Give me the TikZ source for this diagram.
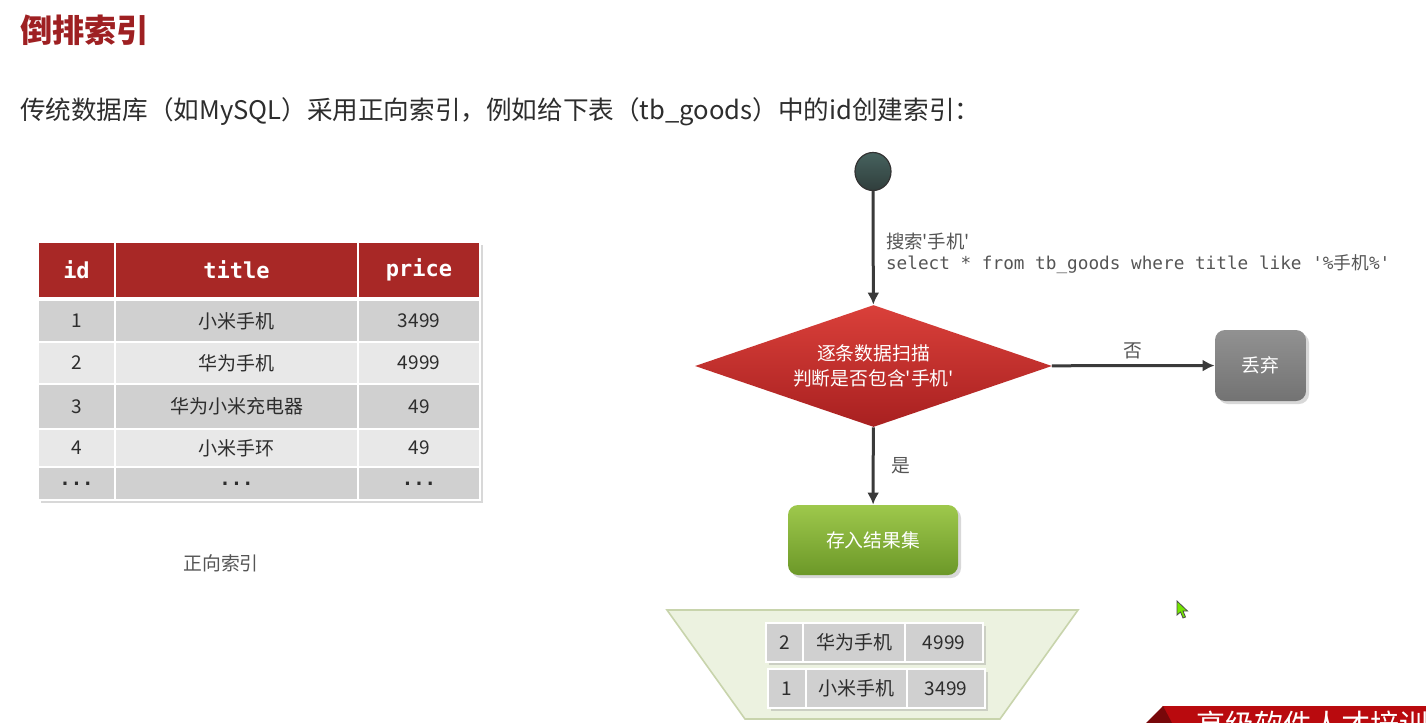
\documentclass[tikz,border=0pt]{standalone}
\usepackage{fontspec}
\setmainfont{Noto Sans CJK SC}
\newfontfamily\monofont{DejaVu Sans Mono}
\usetikzlibrary{arrows.meta,positioning,calc,shapes.geometric,shadows}
\definecolor{titlered}{RGB}{158,32,34}
\definecolor{headred}{RGB}{168,40,38}
\definecolor{rowdark}{RGB}{208,208,208}
\definecolor{rowlight}{RGB}{232,232,232}
\definecolor{txtgray}{RGB}{45,45,45}
\definecolor{notegray}{RGB}{85,85,85}
\definecolor{arrowgray}{RGB}{58,58,58}
\definecolor{dottop}{RGB}{70,98,94}
\definecolor{dotbottom}{RGB}{48,62,60}
\definecolor{scantop}{RGB}{218,64,58}
\definecolor{scanbottom}{RGB}{168,32,32}
\definecolor{storetop}{RGB}{158,200,76}
\definecolor{storebottom}{RGB}{108,152,40}
\definecolor{trapfill}{RGB}{236,242,224}
\definecolor{trapline}{RGB}{200,212,172}
\definecolor{bannerred}{RGB}{185,10,14}
\definecolor{bannerdark}{RGB}{120,8,10}
\newcommand{\sq}{\textquotesingle}
\newcommand{\rowdots}{{\monofont\bfseries...}}

\begin{document}
\begin{tikzpicture}[x=0.5pt,y=-0.5pt,
  cell/.style={draw=white,line width=1pt,inner sep=0pt,text=txtgray,font=\fontsize{9.5}{11}\selectfont},
  tcell/.style 2 args={cell,minimum width=#1*0.5pt,minimum height=#2*0.5pt},
  headcell/.style 2 args={tcell={#1}{#2},fill=headred,text=white,font=\monofont\bfseries\fontsize{11}{13}\selectfont},
  flow/.style={draw=arrowgray,line width=1.5pt,-{Latex[length=6pt,width=6pt]}},
  softshadow/.style={drop shadow={opacity=0.3,shadow xshift=1.5pt,shadow yshift=-1.5pt}},
  startdot/.style={ellipse,minimum width=18pt,minimum height=19pt,inner sep=0pt,draw=black!80,line width=0.6pt,top color=dottop,bottom color=dotbottom},
  decision/.style={diamond,aspect=2.93,minimum width=178.5pt,minimum height=61pt,inner sep=0pt,align=center,
    top color=scantop,bottom color=scanbottom,text=white,font=\fontsize{9.4}{12.5}\selectfont},
  stepbox/.style={rectangle,rounded corners=5pt,inner sep=0pt,text=white,font=\fontsize{9.4}{11}\selectfont,softshadow},
  note/.style={text=notegray,font=\fontsize{9.2}{11}\selectfont}]
\useasboundingbox[fill=white] (0,0) rectangle (1426,723);

% heading
\node[anchor=west,text=titlered,font=\bfseries\fontsize{16.1}{19}\selectfont] (heading) at (13,30) {倒排索引};
\node[anchor=west,text=txtgray,font=\fontsize{12.8}{15}\selectfont] (intro) at (13,112)
  {传统数据库（如MySQL）采用正向索引，例如给下表（tb\_goods）中的id创建索引：};

% forward index table
\fill[white,softshadow] (38,242) rectangle (480,500);
\node[headcell={77}{56}] (hid) at (76.5,270) {id};
\node[headcell={243}{56}] (htitle) at (236.5,270) {title};
\node[headcell={122}{56}] (hprice) at (419,270) {price};
\foreach \r/\yc/\rh/\fc/\a/\b/\c in {1/321/42/rowdark/1/小米手机/3499,
    2/363/42/rowlight/2/华为手机/4999, 3/406.5/45/rowdark/3/华为小米充电器/49,
    4/448/38/rowlight/4/小米手环/49, 5/483.5/33/rowdark/\rowdots/\rowdots/\rowdots}{
  \node[tcell={77}{\rh},fill=\fc] (id\r) at (76.5,\yc) {\a};
  \node[tcell={243}{\rh},fill=\fc] (title\r) at (236.5,\yc) {\b};
  \node[tcell={122}{\rh},fill=\fc] (price\r) at (419,\yc) {\c};
}
\node[text=notegray,font=\fontsize{9.4}{11}\selectfont] (fwdlabel) at (221,563) {正向索引};

% scan flow
\node[startdot] (start) at (873,171.5) {};
\node[decision] (scan) at (873.5,366) {逐条数据扫描\\判断是否包含\sq 手机\sq};
\node[stepbox,minimum width=45.5pt,minimum height=35.5pt,top color=black!43,bottom color=black!55] (discard) at (1260.5,365.5) {丢弃};
\node[stepbox,minimum width=85pt,minimum height=35pt,top color=storetop,bottom color=storebottom] (store) at (873,540) {存入结果集};

\draw[flow] (start) -- (scan);
\node[note,anchor=west] (search) at (879,242) {搜索\sq 手机\sq};
\node[note,anchor=west,font=\fontsize{8.85}{11}\selectfont] (query) at (879,264) {{\monofont select * from tb\_goods where title like \sq\%}手机{\monofont\%\sq}};
\draw[flow] (scan) -- node[note,above=-1pt,font=\fontsize{9.4}{11}\selectfont] (no) {否} (discard);
\draw[flow] (scan) -- node[note,right=5pt,font=\fontsize{9.4}{11}\selectfont] (yes) {是} (store);

% result set
\fill[trapfill,draw=trapline,line width=0.8pt] (667,610) -- (1078,610) -- (1000,719) -- (745,719) -- cycle;
\fill[rowdark,softshadow] (766,623) rectangle (983,662);
\node[tcell={37}{39},fill=rowdark] (rid2) at (784.5,642.5) {2};
\node[tcell={102}{39},fill=rowdark] (rtitle2) at (854,642.5) {华为手机};
\node[tcell={78}{39},fill=rowdark] (rprice2) at (944,642.5) {4999};
\fill[rowdark,softshadow] (768,669) rectangle (985,708);
\node[tcell={38}{39},fill=rowdark] (rid1) at (787,688.5) {1};
\node[tcell={101}{39},fill=rowdark] (rtitle1) at (856.5,688.5) {小米手机};
\node[tcell={78}{39},fill=rowdark] (rprice1) at (946,688.5) {3499};

% cursor and banner
\filldraw[fill=green!50!yellow!90!black,draw=black!70,line width=0.4pt] (1177,601) -- (1177,615) -- (1180.5,612) -- (1183,618) -- (1185.5,617) -- (1183,611) -- (1187.5,611) -- cycle;
\begin{scope}
  \clip (0,0) rectangle (1426,723);
  \fill[bannerred] (1163,706) -- (1426,706) -- (1426,730) -- (1146,730) -- cycle;
  \fill[bannerdark] (1146,723) -- (1163,706) -- (1172,723) -- cycle;
  \node[anchor=north west,inner sep=0pt,text=white,font=\fontsize{14.5}{17}\selectfont] (slogan) at (1196,711) {高级软件人才培训专家};
\end{scope}
\end{tikzpicture}
\end{document}
